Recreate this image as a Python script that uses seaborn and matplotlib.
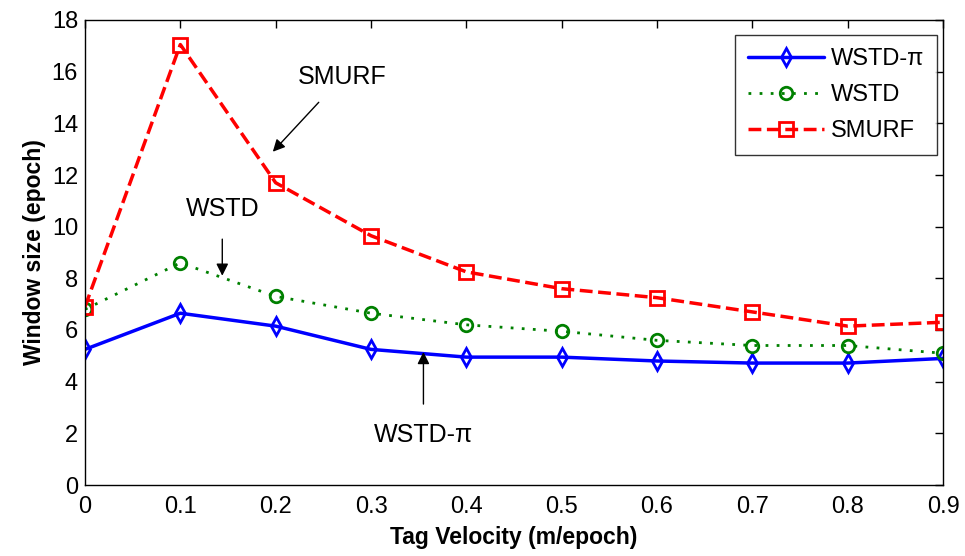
import matplotlib
matplotlib.use("Agg")
import matplotlib.pyplot as plt
import pandas as pd
import seaborn as sns

# Values
velocity = [0, 0.1, 0.2, 0.3, 0.4, 0.5, 0.6, 0.7, 0.8, 0.9]
wstd_pi = [5.25, 6.65, 6.15, 5.25, 4.95, 4.95, 4.8, 4.72, 4.72, 4.9]
wstd = [6.8, 8.6, 7.3, 6.65, 6.2, 5.95, 5.6, 5.4, 5.4, 5.1]
smurf = [6.9, 17.05, 11.7, 9.65, 8.25, 7.6, 7.25, 6.7, 6.15, 6.3]

df = pd.DataFrame({
    "Tag Velocity (m/epoch)": velocity,
    "WSTD-\u03c0": wstd_pi,
    "WSTD": wstd,
    "SMURF": smurf,
})

sns.set_style("white")
plt.rcParams["font.family"] = ["Liberation Sans", "DejaVu Sans"]
plt.rcParams["text.color"] = "black"
plt.rcParams["axes.labelcolor"] = "black"
plt.rcParams["xtick.color"] = "black"
plt.rcParams["ytick.color"] = "black"

fig = plt.figure(figsize=(9.65, 5.56), dpi=100)
ax = fig.add_axes([85 / 965, 1 - 485 / 556, (943 - 85) / 965, (485 - 20) / 556])

styles = {
    "WSTD-\u03c0": dict(color="blue", linestyle="-", marker="d", linewidth=2.5, markersize=9),
    "WSTD": dict(color="green", linestyle=(0, (1, 3)), marker="o", linewidth=2, markersize=9),
    "SMURF": dict(color="red", linestyle="--", marker="s", linewidth=2.5, markersize=10),
}
for name, st in styles.items():
    sns.lineplot(
        x="Tag Velocity (m/epoch)", y=name, data=df, ax=ax, label=name,
        color=st["color"], linestyle=st["linestyle"], marker=st["marker"],
        linewidth=st["linewidth"], markersize=st["markersize"],
        markerfacecolor="none", markeredgecolor=st["color"], markeredgewidth=2,
    )

ax.set_xlim(0, 0.9)
ax.set_ylim(0, 18)
ax.set_xticks(velocity)
ax.set_xticklabels([f"{v:g}" for v in velocity])
ax.set_yticks(range(0, 19, 2))
ax.tick_params(direction="in", top=True, right=True, length=6, labelsize=17, width=1)
ax.tick_params(axis="x", pad=8)
ax.tick_params(axis="y", pad=5)
for s in ax.spines.values():
    s.set_color("black")
    s.set_linewidth(1)

ax.set_xlabel("Tag Velocity (m/epoch)", fontsize=16.5, fontweight="bold", labelpad=6)
ax.set_ylabel("Window size (epoch)", fontsize=16.5, fontweight="bold", labelpad=4)

leg = ax.legend(loc="upper right", fontsize=17, frameon=True, fancybox=False,
                edgecolor="black", handlelength=3.2, borderpad=0.55, labelspacing=0.6,
                handletextpad=0.3, borderaxespad=0, bbox_to_anchor=(0.993, 0.968))
leg.get_frame().set_linewidth(1)

arrow = dict(arrowstyle="-|>", color="black", lw=1, mutation_scale=18)
ax.annotate("SMURF", xy=(0.197, 12.9), xytext=(0.27, 15.8), fontsize=18,
            ha="center", va="center", arrowprops=dict(arrow, shrinkA=10, shrinkB=0))
ax.annotate("WSTD", xy=(0.144, 8.1), xytext=(0.144, 10.7), fontsize=18,
            ha="center", va="center", arrowprops=dict(arrow, shrinkA=11, shrinkB=0))
ax.annotate("WSTD-\u03c0", xy=(0.355, 5.15), xytext=(0.355, 1.95), fontsize=18,
            ha="center", va="center", arrowprops=dict(arrow, shrinkA=11, shrinkB=0))

fig.savefig("out.png", dpi=100)
plt.close(fig)
